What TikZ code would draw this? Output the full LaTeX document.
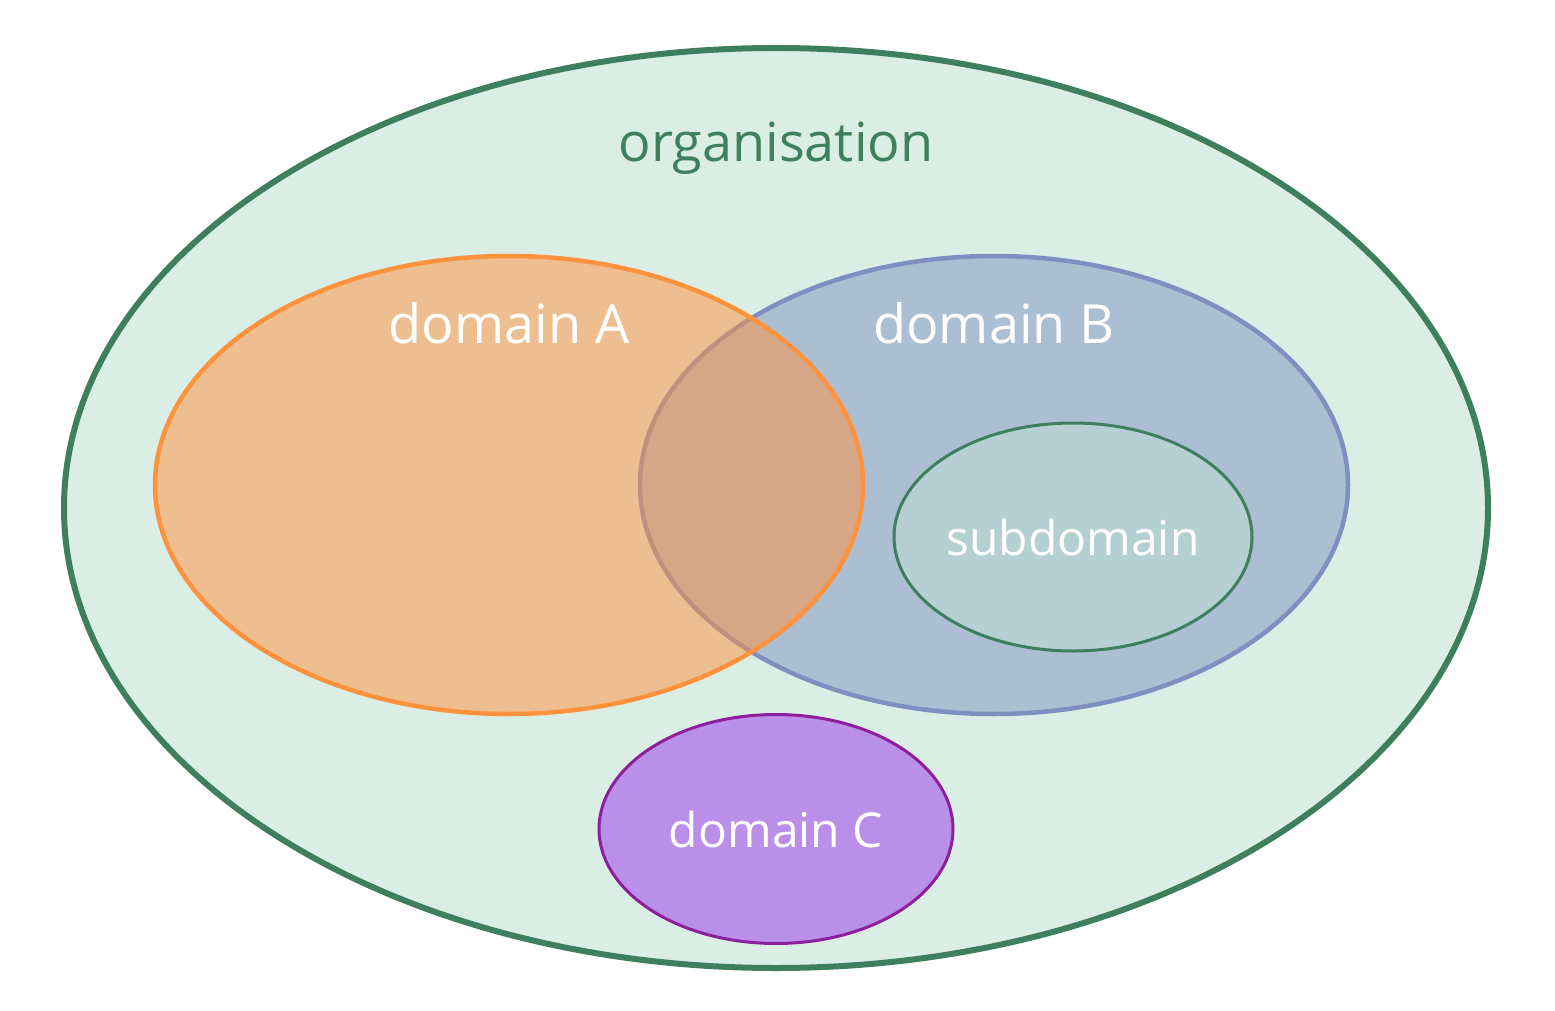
\documentclass[tikz,border=0pt]{standalone}
\usepackage{fontspec}
\setmainfont{Open Sans}
\usepackage{tikz}
\usetikzlibrary{shapes.geometric}

\definecolor{orgline}{HTML}{3E7F5E}
\definecolor{orgfill}{HTML}{DBEEE5}
\definecolor{aline}{HTML}{FF923D}
\definecolor{bline}{HTML}{7F8FC0}
\definecolor{subfill}{HTML}{B5CFD3}
\definecolor{cline}{HTML}{8E1F9C}
\definecolor{cfill}{HTML}{B98FE9}

\tikzset{
	area/.style={ellipse, inner sep=0pt, outer sep=0pt},
	bigtext/.style={font=\fontsize{54}{60}\selectfont, anchor=base},
	smalltext/.style={font=\fontsize{48}{54}\selectfont, text=white}
}

\begin{document}
\begin{tikzpicture}[x=1pt, y=-1pt]
		\useasboundingbox (0, 0) rectangle (1555, 1011);
		\node[area, draw=orgline, fill=orgfill, line width=6pt, minimum width=1424pt, minimum height=920pt] (org) at (776, 508) {};
		\node[area, draw=bline, fill=bline, fill opacity=0.5, draw opacity=1, line width=4.5pt, minimum width=708pt, minimum height=458pt] (domB) at (994, 485) {};
		\node[area, draw=aline, fill=aline, fill opacity=0.5, draw opacity=1, line width=4.5pt, minimum width=708pt, minimum height=458pt] (domA) at (509, 485) {};
		\node[area, draw=orgline, fill=subfill, line width=3pt, minimum width=353pt, minimum height=228pt, smalltext] (sub) at (1073, 537) {subdomain};
		\node[area, draw=cline, fill=cfill, line width=3pt, minimum width=354pt, minimum height=229pt, smalltext] (domC) at (776, 829) {domain C};
		\node[bigtext, text=orgline] (orglabel) at (776, 162) {organisation};
		\node[bigtext, text=white] (alabel) at (509, 343) {domain A};
		\node[bigtext, text=white] (blabel) at (994, 343) {domain B};
	\end{tikzpicture}
\end{document}
